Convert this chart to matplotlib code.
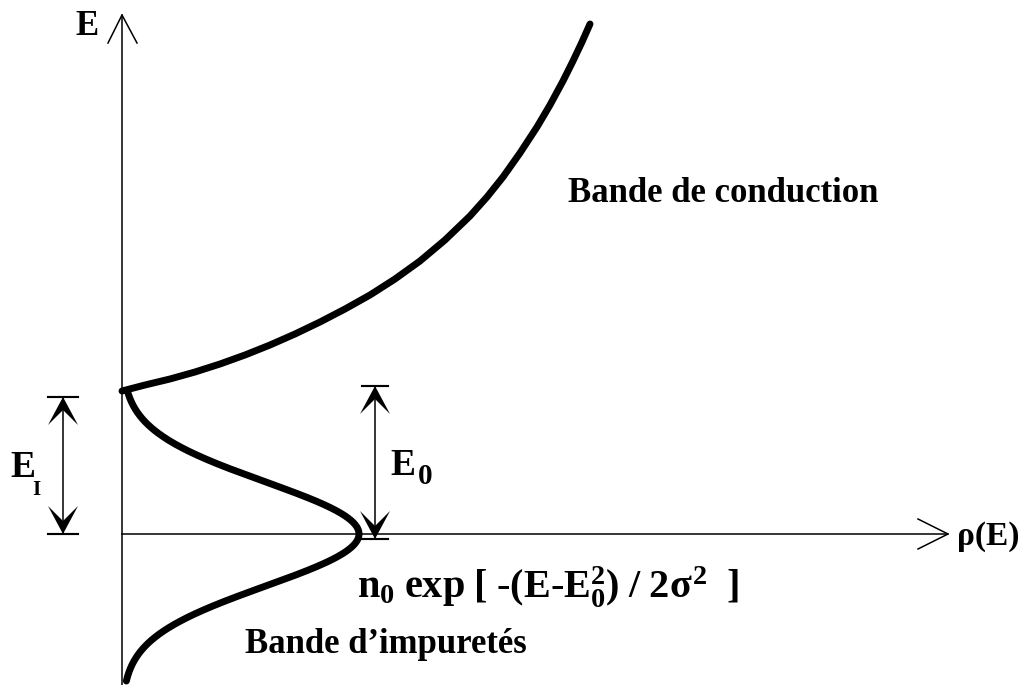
import numpy as np
import matplotlib
matplotlib.use("Agg")
import matplotlib.pyplot as plt

plt.rcParams["font.family"] = ["Liberation Serif", "DejaVu Serif"]
plt.rcParams["font.weight"] = "bold"
plt.rcParams["mathtext.fontset"] = "custom"
plt.rcParams["mathtext.rm"] = "Liberation Serif:bold"
plt.rcParams["mathtext.it"] = "Liberation Serif:bold"
plt.rcParams["mathtext.bf"] = "Liberation Serif:bold"

# Conduction band density of states (rho, E), arbitrary units
rho_cb = [0.00, 0.23, 0.48, 0.73, 0.98, 1.23, 1.48, 1.73, 1.98, 2.23, 2.48, 2.73,
          2.98, 3.23, 3.48, 3.65, 3.81, 3.98, 4.15, 4.28, 4.41, 4.51, 4.60, 4.68]
E_cb = [1.43, 1.49, 1.55, 1.62, 1.70, 1.79, 1.89, 2.00, 2.12, 2.25, 2.39, 2.55,
        2.73, 2.94, 3.18, 3.37, 3.57, 3.81, 4.07, 4.29, 4.53, 4.73, 4.92, 5.10]

# Impurity band: n0 exp[-(E-E0)^2 / 2 sigma^2]
n0 = 2.37
E0 = 0.0
sigma = 0.52
E_imp_range = [-1.47, 1.42]

# Energy markers
E_I_top = 1.37
E_0_top = 1.48
E_0_bottom = -0.05

# Axis extents
E_axis_top = 5.19
rho_axis_end = 8.26

labels = {
    "conduction": "Bande de conduction",
    "impurity": "Bande d\u2019impuret\u00e9s",
    "yaxis": "E",
    "xaxis": "\u03c1(E)",
}

fig = plt.figure(figsize=(10.29, 6.85), dpi=100)
ax = fig.add_axes([0, 0, 1, 1])
ax.set_xlim(-1.22, 9.07)
ax.set_ylim(-1.51, 5.34)
ax.axis("off")

thin = 1.1
thick = 5.0

# Axes with open arrowheads
ax.plot([0, 0], [-1.51, E_axis_top], color="black", lw=thin)
ax.plot([-0.14, 0, 0.15], [E_axis_top - 0.28, E_axis_top, E_axis_top - 0.28],
        color="black", lw=thin)
ax.plot([0, rho_axis_end], [0, 0], color="black", lw=thin)
ax.plot([rho_axis_end - 0.30, rho_axis_end, rho_axis_end - 0.30], [0.15, 0, -0.15],
        color="black", lw=thin)

# Conduction band
ax.plot(rho_cb, E_cb, color="black", lw=thick, solid_capstyle="round",
        solid_joinstyle="round")

# Impurity band (Gaussian)
E_imp = np.linspace(E_imp_range[0], E_imp_range[1], 400)
rho_imp = n0 * np.exp(-(E_imp - E0) ** 2 / (2 * sigma ** 2))
ax.plot(rho_imp, E_imp, color="black", lw=thick, solid_capstyle="round")


def head(x, y_tip, direction):
    """Filled barbed arrowhead, direction +1 points up, -1 points down."""
    L, W, N = 0.28, 0.15, 0.13
    ys = [y_tip, y_tip - direction * L, y_tip - direction * N, y_tip - direction * L]
    xs = [x, x - W, x, x + W]
    ax.fill(xs, ys, color="black", lw=0)


def dimension(x, y_low, y_high, half=0.15):
    ax.plot([x, x], [y_low, y_high], color="black", lw=thin)
    ax.plot([x - half, x + half], [y_high, y_high], color="black", lw=thin * 1.4)
    ax.plot([x - half, x + half], [y_low, y_low], color="black", lw=thin * 1.4)
    head(x, y_high, +1)
    head(x, y_low, -1)


dimension(-0.59, 0.0, E_I_top)
dimension(2.53, E_0_bottom, E_0_top, half=0.13)

# Labels
ax.text(-0.47, 4.99, labels["yaxis"], fontsize=25, va="baseline", ha="left")
ax.text(8.35, -0.11, labels["xaxis"], fontsize=24, va="baseline", ha="left")
ax.text(-1.12, 0.57, "E", fontsize=27, va="baseline", ha="left")
ax.text(-0.90, 0.39, "I", fontsize=15, va="baseline", ha="left")
ax.text(2.68, 0.59, "E", fontsize=27, va="baseline", ha="left")
ax.text(2.955, 0.50, "0", fontsize=21, va="baseline", ha="left")
ax.text(4.46, 3.32, labels["conduction"], fontsize=25, va="baseline", ha="left")
ax.text(1.23, -1.19, labels["impurity"], fontsize=25, va="baseline", ha="left")
ax.text(2.35, -0.64,
        r"$\mathrm{n}_{0}\;\mathrm{exp}\;[\;\text{-}(\mathrm{E}\text{-}\mathrm{E}_{0}^{2})\;/\;2\sigma^{2}\;\;]$",
        fontsize=29, va="baseline", ha="left")

fig.savefig("out.png", dpi=100, facecolor="white")
